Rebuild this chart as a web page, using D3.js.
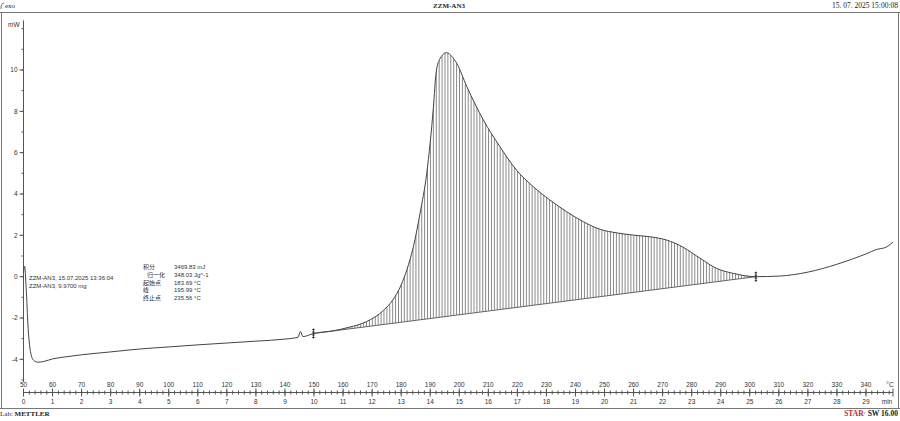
<!DOCTYPE html>
<html><head><meta charset="utf-8">
<script src="https://cdn.jsdelivr.net/npm/d3@7/dist/d3.min.js"></script>
<style>html,body{margin:0;padding:0;background:#fff;}svg{display:block;}</style>
</head><body>
<script>
// ---- data ----
const temps = [50.0,50.4,50.9,51.6,52.5,53.5,55.0,57.0,60,65,70,80,90,100,110,120,130,140,144.5,145.3,146.2,149.8,156.6,162,168,174,177,180,182,184.2,186.5,188.8,191.1,192.0,193.2,195.6,197.5,199.1,202.6,208.3,214,219.7,225.5,231.2,237,242.7,248.5,254.2,259.9,265.7,271.4,277.1,282.9,288.6,294.3,302.1,310.3,320,330,340,344,346.5,349.3];
const heatFlow = [0.20,0.50,-0.5,-2.5,-3.7,-4.05,-4.14,-4.10,-3.98,-3.87,-3.78,-3.64,-3.50,-3.40,-3.30,-3.21,-3.12,-3.02,-2.93,-2.65,-2.90,-2.75,-2.62,-2.45,-2.18,-1.62,-1.15,-0.40,0.35,1.45,3.07,5.0,8.2,9.84,10.5,10.84,10.65,10.33,9.2,7.58,6.29,5.16,4.35,3.71,3.14,2.66,2.29,2.12,2.01,1.93,1.77,1.42,0.89,0.40,0.16,0.00,0.03,0.22,0.60,1.10,1.33,1.40,1.67];
const limitTemps = [149.8, 302.1];
const limitValues = [-2.75, 0.00];
const yTickValues = [-4,-2,0,2,4,6,8,10];
const tempTickLabels = [50,60,70,80,90,100,110,120,130,140,150,160,170,180,190,200,210,220,230,240,250,260,270,280,290,300,310,320,330,340];
const timeTickLabels = [0,1,2,3,4,5,6,7,8,9,10,11,12,13,14,15,16,17,18,19,20,21,22,23,24,25,26,27,28,29];
const resultNames = ["积分","归一化","起始点","峰","终止点"];
const resultValues = ["3469.83 mJ","348.03 Jg^-1","183.69 °C","195.99 °C","235.56 °C"];
const sampleLines = ["ZZM-AN3, 15.07.2025 13:36:04","ZZM-AN3, 9.9700 mg"];
const title = "ZZM-AN3";
const stamp = "15. 07. 2025 15:00:08";

// ---- drawing ----
const W = 900, H = 421;
const svg = d3.select("body").append("svg").attr("width", W).attr("height", H);
const x = d3.scaleLinear().domain([50, 349.3]).range([23.5, 893]);
const xt = d3.scaleLinear().domain([0, 29.93]).range([23.5, 893]);
const y = d3.scaleLinear().domain([-5, 10]).range([380, 70]);
const sans = "'Liberation Sans', Arial, sans-serif";
const serif = "'Liberation Serif', 'Times New Roman', serif";
const grey = "#555";

// frame
svg.append("line").attr("x1",0).attr("x2",900).attr("y1",12.5).attr("y2",12.5).attr("stroke","#777");
svg.append("line").attr("x1",0).attr("x2",900).attr("y1",408.5).attr("y2",408.5).attr("stroke","#777");
svg.append("line").attr("x1",1.5).attr("x2",1.5).attr("y1",12.5).attr("y2",408.5).attr("stroke","#777");
svg.append("line").attr("x1",898.5).attr("x2",898.5).attr("y1",12.5).attr("y2",408.5).attr("stroke","#777");

// header
svg.append("path").attr("d","M1,9 Q1,3 4,3").attr("fill","none").attr("stroke","#444").attr("stroke-width",0.8);
svg.append("text").attr("x",5).attr("y",8).attr("font-family",serif).attr("font-size",7).attr("fill","#222").text("exo");
svg.append("text").attr("x",449).attr("y",8).attr("text-anchor","middle").attr("font-family",serif).attr("font-weight","bold").attr("font-size",7).attr("fill","#222").text(title);
svg.append("text").attr("x",898).attr("y",8).attr("text-anchor","end").attr("font-family",serif).attr("font-size",7.5).attr("fill","#222").text(stamp);

// footer
const lab = svg.append("text").attr("x",0).attr("y",416).attr("font-family",serif).attr("font-size",7).attr("fill","#222");
lab.append("tspan").text("Lab: ");
lab.append("tspan").attr("font-weight","bold").text("METTLER");
const star = svg.append("text").attr("x",898).attr("y",416).attr("text-anchor","end").attr("font-family",serif).attr("font-size",7.5).attr("fill","#222");
star.append("tspan").attr("fill","#c0282d").attr("font-weight","bold").text("STAR");
star.append("tspan").attr("fill","#c0282d").attr("font-size",5).attr("dy",-2).text("e");
star.append("tspan").attr("dy",2).attr("font-weight","bold").text(" SW 16.00");

// y axis
const yAxisG = svg.append("g").attr("transform","translate(23.5,0)");
yAxisG.append("line").attr("y1",y(12.4)).attr("y2",y(-5.1)).attr("stroke",grey);
yAxisG.selectAll("line.minor").data(d3.range(-5,13,1)).join("line").attr("class","minor")
  .attr("x1",-2).attr("x2",0).attr("y1",d=>y(d)).attr("y2",d=>y(d)).attr("stroke",grey);
yAxisG.selectAll("line.major").data(yTickValues).join("line").attr("class","major")
  .attr("x1",-4).attr("x2",0).attr("y1",d=>y(d)).attr("y2",d=>y(d)).attr("stroke",grey);
yAxisG.selectAll("text").data(yTickValues).join("text").attr("x",-6).attr("y",d=>y(d)+2.2)
  .attr("text-anchor","end").attr("font-family",sans).attr("font-size",6.5).attr("fill","#333").text(d=>d);
svg.append("text").attr("x",8).attr("y",27).attr("font-family",sans).attr("font-size",6.5).attr("fill","#333").text("mW");

// x axis
const axY = 392.5;
svg.append("line").attr("x1",x(50)).attr("x2",x(349.3)).attr("y1",axY).attr("y2",axY).attr("stroke",grey);
svg.append("g").selectAll("line").data(d3.range(50,349.3,2)).join("line")
  .attr("x1",d=>x(d)).attr("x2",d=>x(d)).attr("y1",axY-2).attr("y2",axY+2).attr("stroke",grey);
svg.append("g").selectAll("line").data(tempTickLabels).join("line")
  .attr("x1",d=>x(d)).attr("x2",d=>x(d)).attr("y1",axY-4).attr("y2",axY+4).attr("stroke",grey);
svg.append("line").attr("x1",x(349.3)).attr("x2",x(349.3)).attr("y1",axY-4).attr("y2",axY+4).attr("stroke",grey);
svg.append("g").selectAll("text").data(tempTickLabels).join("text")
  .attr("x",d=>x(d)).attr("y",386.5).attr("text-anchor","middle").attr("font-family",sans).attr("font-size",6.5).attr("fill","#333").text(d=>d);
svg.append("g").selectAll("text").data(timeTickLabels).join("text")
  .attr("x",d=>xt(d)).attr("y",404).attr("text-anchor","middle").attr("font-family",sans).attr("font-size",6.5).attr("fill","#333").text(d=>d);
svg.append("text").attr("x",890).attr("y",386.5).attr("text-anchor","middle").attr("font-family",sans).attr("font-size",6.5).attr("fill","#333").text("°C");
svg.append("text").attr("x",887).attr("y",404).attr("text-anchor","middle").attr("font-family",sans).attr("font-size",6.5).attr("fill","#333").text("min");

// data
const data = temps.map((t,i)=>({t, v: heatFlow[i]}));
const baseAt = t => limitValues[0] + (limitValues[1]-limitValues[0])*(t-limitTemps[0])/(limitTemps[1]-limitTemps[0]);
const step = x(51)-x(50);
const defs = svg.append("defs");
const pat = defs.append("pattern").attr("id","hatch").attr("patternUnits","userSpaceOnUse")
  .attr("width",step).attr("height",10);
pat.append("line").attr("x1",0.5).attr("x2",0.5).attr("y1",0).attr("y2",10).attr("stroke","#7a7a7a").attr("stroke-width",0.9);

const peakData = data.filter(d=>d.t>=limitTemps[0] && d.t<=limitTemps[1]);
const curve = d3.curveMonotoneX;
svg.append("path").datum(peakData).attr("fill","url(#hatch)")
  .attr("d", d3.area().x(d=>x(d.t)).y0(d=>y(baseAt(d.t))).y1(d=>y(d.v)).curve(curve));
svg.append("line").attr("x1",x(limitTemps[0])).attr("y1",y(limitValues[0]))
  .attr("x2",x(limitTemps[1])).attr("y2",y(limitValues[1])).attr("stroke","#555").attr("stroke-width",0.9);
svg.append("path").datum(data).attr("fill","none").attr("stroke","#444").attr("stroke-width",1)
  .attr("d", d3.line().x(d=>x(d.t)).y(d=>y(d.v)).curve(curve));

// limit markers
limitTemps.forEach((t,i)=>{
  const px = x(t), py = y(limitValues[i]);
  const g = svg.append("g");
  g.append("line").attr("x1",px).attr("x2",px).attr("y1",py-5).attr("y2",py+5).attr("stroke","#222").attr("stroke-width",0.9);
  [-4,-1.5,1.5,4].forEach(o=>g.append("line").attr("x1",px-1.2).attr("x2",px+1.2).attr("y1",py+o).attr("y2",py+o).attr("stroke","#222").attr("stroke-width",0.9));
});

// sample annotation
svg.append("g").selectAll("text").data(sampleLines).join("text")
  .attr("x",29).attr("y",(d,i)=>280+i*7.5).attr("font-family",sans).attr("font-size",6).attr("fill","#333").text(d=>d);

// results
const rg = svg.append("g");
rg.selectAll("text.n").data(resultNames).join("text").attr("class","n")
  .attr("x",(d,i)=>i===1?147:143).attr("y",(d,i)=>269+i*7.8)
  .attr("font-family","'Noto Sans CJK SC', sans-serif").attr("font-size",6).attr("fill","#333").text(d=>d);
rg.selectAll("text.v").data(resultValues).join("text").attr("class","v")
  .attr("x",174).attr("y",(d,i)=>269+i*7.8)
  .attr("font-family",sans).attr("font-size",6).attr("fill","#333").text(d=>d);
</script>
</body></html>
